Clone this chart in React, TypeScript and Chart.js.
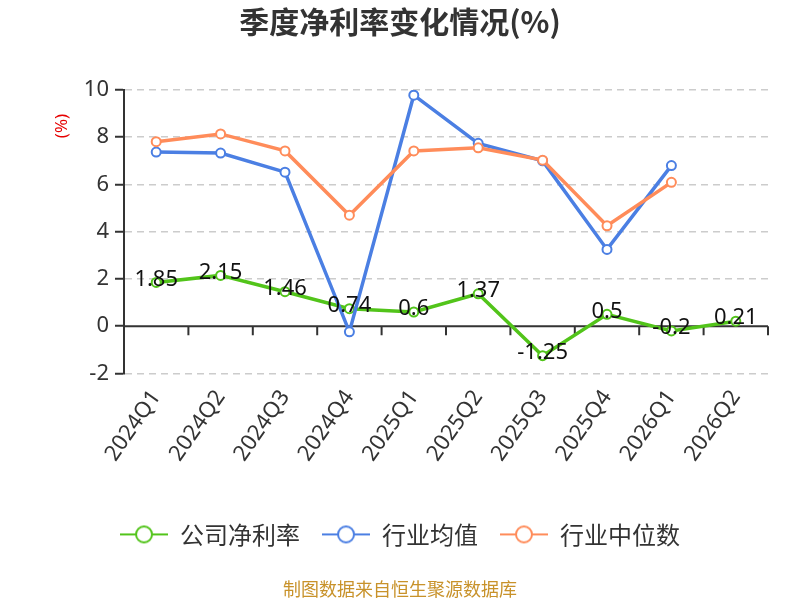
import { useEffect, useRef } from 'react'
import { Chart, registerables } from 'chart.js'

Chart.register(...registerables)

const quarters = ['2024Q1', '2024Q2', '2024Q3', '2024Q4', '2025Q1', '2025Q2', '2025Q3', '2025Q4', '2026Q1', '2026Q2']
const companyMargin = [1.85, 2.15, 1.46, 0.74, 0.6, 1.37, -1.25, 0.5, -0.2, 0.21]
const industryAvg = [7.37, 7.33, 6.52, -0.24, 9.78, 7.74, 7.0, 3.25, 6.8, null]
const industryMedian = [7.81, 8.14, 7.42, 4.7, 7.42, 7.55, 7.03, 4.25, 6.09, null]
const seriesNames = ['公司净利率', '行业均值', '行业中位数']
const seriesColors = ['#52c41a', '#4b7fe3', '#ff8c5a']
const yTicks = [-2, 0, 2, 4, 6, 8, 10]

const FONT = "'Noto Sans', 'Noto Sans CJK SC', sans-serif"
const CJK_FONT = "'Noto Sans CJK SC', 'Noto Sans', sans-serif"

function legendMarker(color: string) {
  const c = document.createElement('canvas')
  c.width = 48
  c.height = 20
  const g = c.getContext('2d')!
  g.strokeStyle = color
  g.lineWidth = 2
  g.beginPath()
  g.moveTo(0, 10)
  g.lineTo(48, 10)
  g.stroke()
  g.beginPath()
  g.arc(24, 10, 8, 0, Math.PI * 2)
  g.fillStyle = '#fff'
  g.fill()
  g.stroke()
  return c
}

// solid zero line with category tick marks
const zeroAxisPlugin = {
  id: 'zeroAxis',
  beforeDatasetsDraw(chart: any) {
    const { ctx, chartArea, scales } = chart
    const y0 = scales.y.getPixelForValue(0)
    const n = quarters.length
    const step = (chartArea.right - chartArea.left) / n
    ctx.save()
    ctx.strokeStyle = '#333'
    ctx.lineWidth = 2
    ctx.beginPath()
    ctx.moveTo(chartArea.left, y0)
    ctx.lineTo(chartArea.right, y0)
    for (let k = 1; k <= n; k++) {
      const x = chartArea.left + k * step
      ctx.moveTo(x, y0)
      ctx.lineTo(x, y0 + 9)
    }
    ctx.stroke()
    ctx.restore()
  }
}

const extrasPlugin = {
  id: 'extras',
  afterDatasetsDraw(chart: any) {
    const { ctx, chartArea } = chart
    ctx.save()
    // value labels on company series
    const meta = chart.getDatasetMeta(0)
    ctx.font = `22px ${FONT}`
    ctx.fillStyle = '#111'
    ctx.textAlign = 'center'
    ctx.textBaseline = 'middle'
    meta.data.forEach((pt: any, i: number) => {
      ctx.fillText(String(companyMargin[i]), pt.x, pt.y - 3)
    })
    // unit label
    ctx.translate(62, chartArea.top + 36)
    ctx.rotate(-Math.PI / 2)
    ctx.font = `17px ${FONT}`
    ctx.fillStyle = '#e60000'
    ctx.fillText('(%)', 0, 0)
    ctx.restore()
  }
}

export default function App() {
  const chartRef = useRef<HTMLCanvasElement>(null)
  const chartInstance = useRef<Chart | null>(null)

  useEffect(() => {
    document.body.style.margin = '0'
    if (!chartRef.current) return
    if (chartInstance.current) chartInstance.current.destroy()
    const ctx = chartRef.current.getContext('2d')
    if (!ctx) return

    const markers = seriesColors.map(legendMarker)
    const values = [companyMargin, industryAvg, industryMedian]

    const datasets = values.map((data, i) => ({
      label: seriesNames[i],
      data,
      borderColor: seriesColors[i],
      backgroundColor: '#fff',
      borderWidth: 3.5,
      pointRadius: 4.5,
      pointBorderWidth: 2,
      pointBackgroundColor: '#fff',
      pointBorderColor: seriesColors[i],
      tension: 0,
      order: 2 - i
    }))

    chartInstance.current = new Chart(ctx, {
      type: 'line',
      data: { labels: quarters, datasets },
      options: {
        responsive: false,
        animation: false,
        layout: { padding: 0 },
        plugins: {
          title: {
            display: true,
            text: '季度净利率变化情况(%)',
            color: '#333',
            font: { size: 30, weight: 'bold', family: CJK_FONT },
            padding: { top: 4, bottom: 50 }
          },
          subtitle: {
            display: true,
            position: 'bottom',
            text: '制图数据来自恒生聚源数据库',
            color: '#c8922a',
            font: { size: 18, family: CJK_FONT },
            padding: { top: 22, bottom: 0 }
          },
          legend: {
            position: 'bottom',
            labels: {
              usePointStyle: true,
              pointStyleWidth: 48,
              boxHeight: 20,
              padding: 22,
              color: '#333',
              font: { size: 24, family: CJK_FONT },
              generateLabels: (chart: any) =>
                chart.data.datasets.map((ds: any, i: number) => ({
                  text: ds.label,
                  fillStyle: '#fff',
                  strokeStyle: seriesColors[i],
                  lineWidth: 0,
                  pointStyle: markers[i],
                  hidden: !chart.isDatasetVisible(i),
                  datasetIndex: i,
                  fontColor: '#333'
                }))
            }
          },
          tooltip: { enabled: false }
        },
        scales: {
          x: {
            offset: true,
            grid: { display: false, drawTicks: false },
            border: { display: false },
            ticks: {
              autoSkip: false,
              minRotation: 55,
              maxRotation: 55,
              padding: 12,
              color: '#333',
              font: { size: 22, family: FONT }
            },
            afterFit: (s: any) => { s.height = 127 }
          },
          y: {
            min: -2,
            max: 10,
            afterBuildTicks: (s: any) => { s.ticks = yTicks.map(value => ({ value })) },
            grid: {
              color: (c: any) => (c.tick && c.tick.value === 0 ? 'rgba(0,0,0,0)' : '#ccc'),
              lineWidth: 1.5,
              tickColor: '#333',
              tickLength: 9,
              tickWidth: 2
            },
            border: { display: true, color: '#333', width: 2, dash: [7, 5] },
            ticks: {
              padding: 6,
              color: '#333',
              font: { size: 22, family: FONT }
            },
            afterFit: (s: any) => { s.width = 124 }
          },
          // empty right gutter so the title and legend stay centred on the page
          yRight: {
            position: 'right',
            min: -2,
            max: 10,
            grid: { drawOnChartArea: false, drawTicks: false },
            border: { display: false },
            ticks: { display: false },
            afterFit: (s: any) => { s.width = 32 }
          }
        }
      } as any,
      plugins: [zeroAxisPlugin, extrasPlugin]
    })

    return () => {
      if (chartInstance.current) {
        chartInstance.current.destroy()
        chartInstance.current = null
      }
    }
  }, [])

  return (
    <div style={{ width: 800, height: 600, background: '#fff' }}>
      <canvas ref={chartRef} width={800} height={600} />
    </div>
  )
}
